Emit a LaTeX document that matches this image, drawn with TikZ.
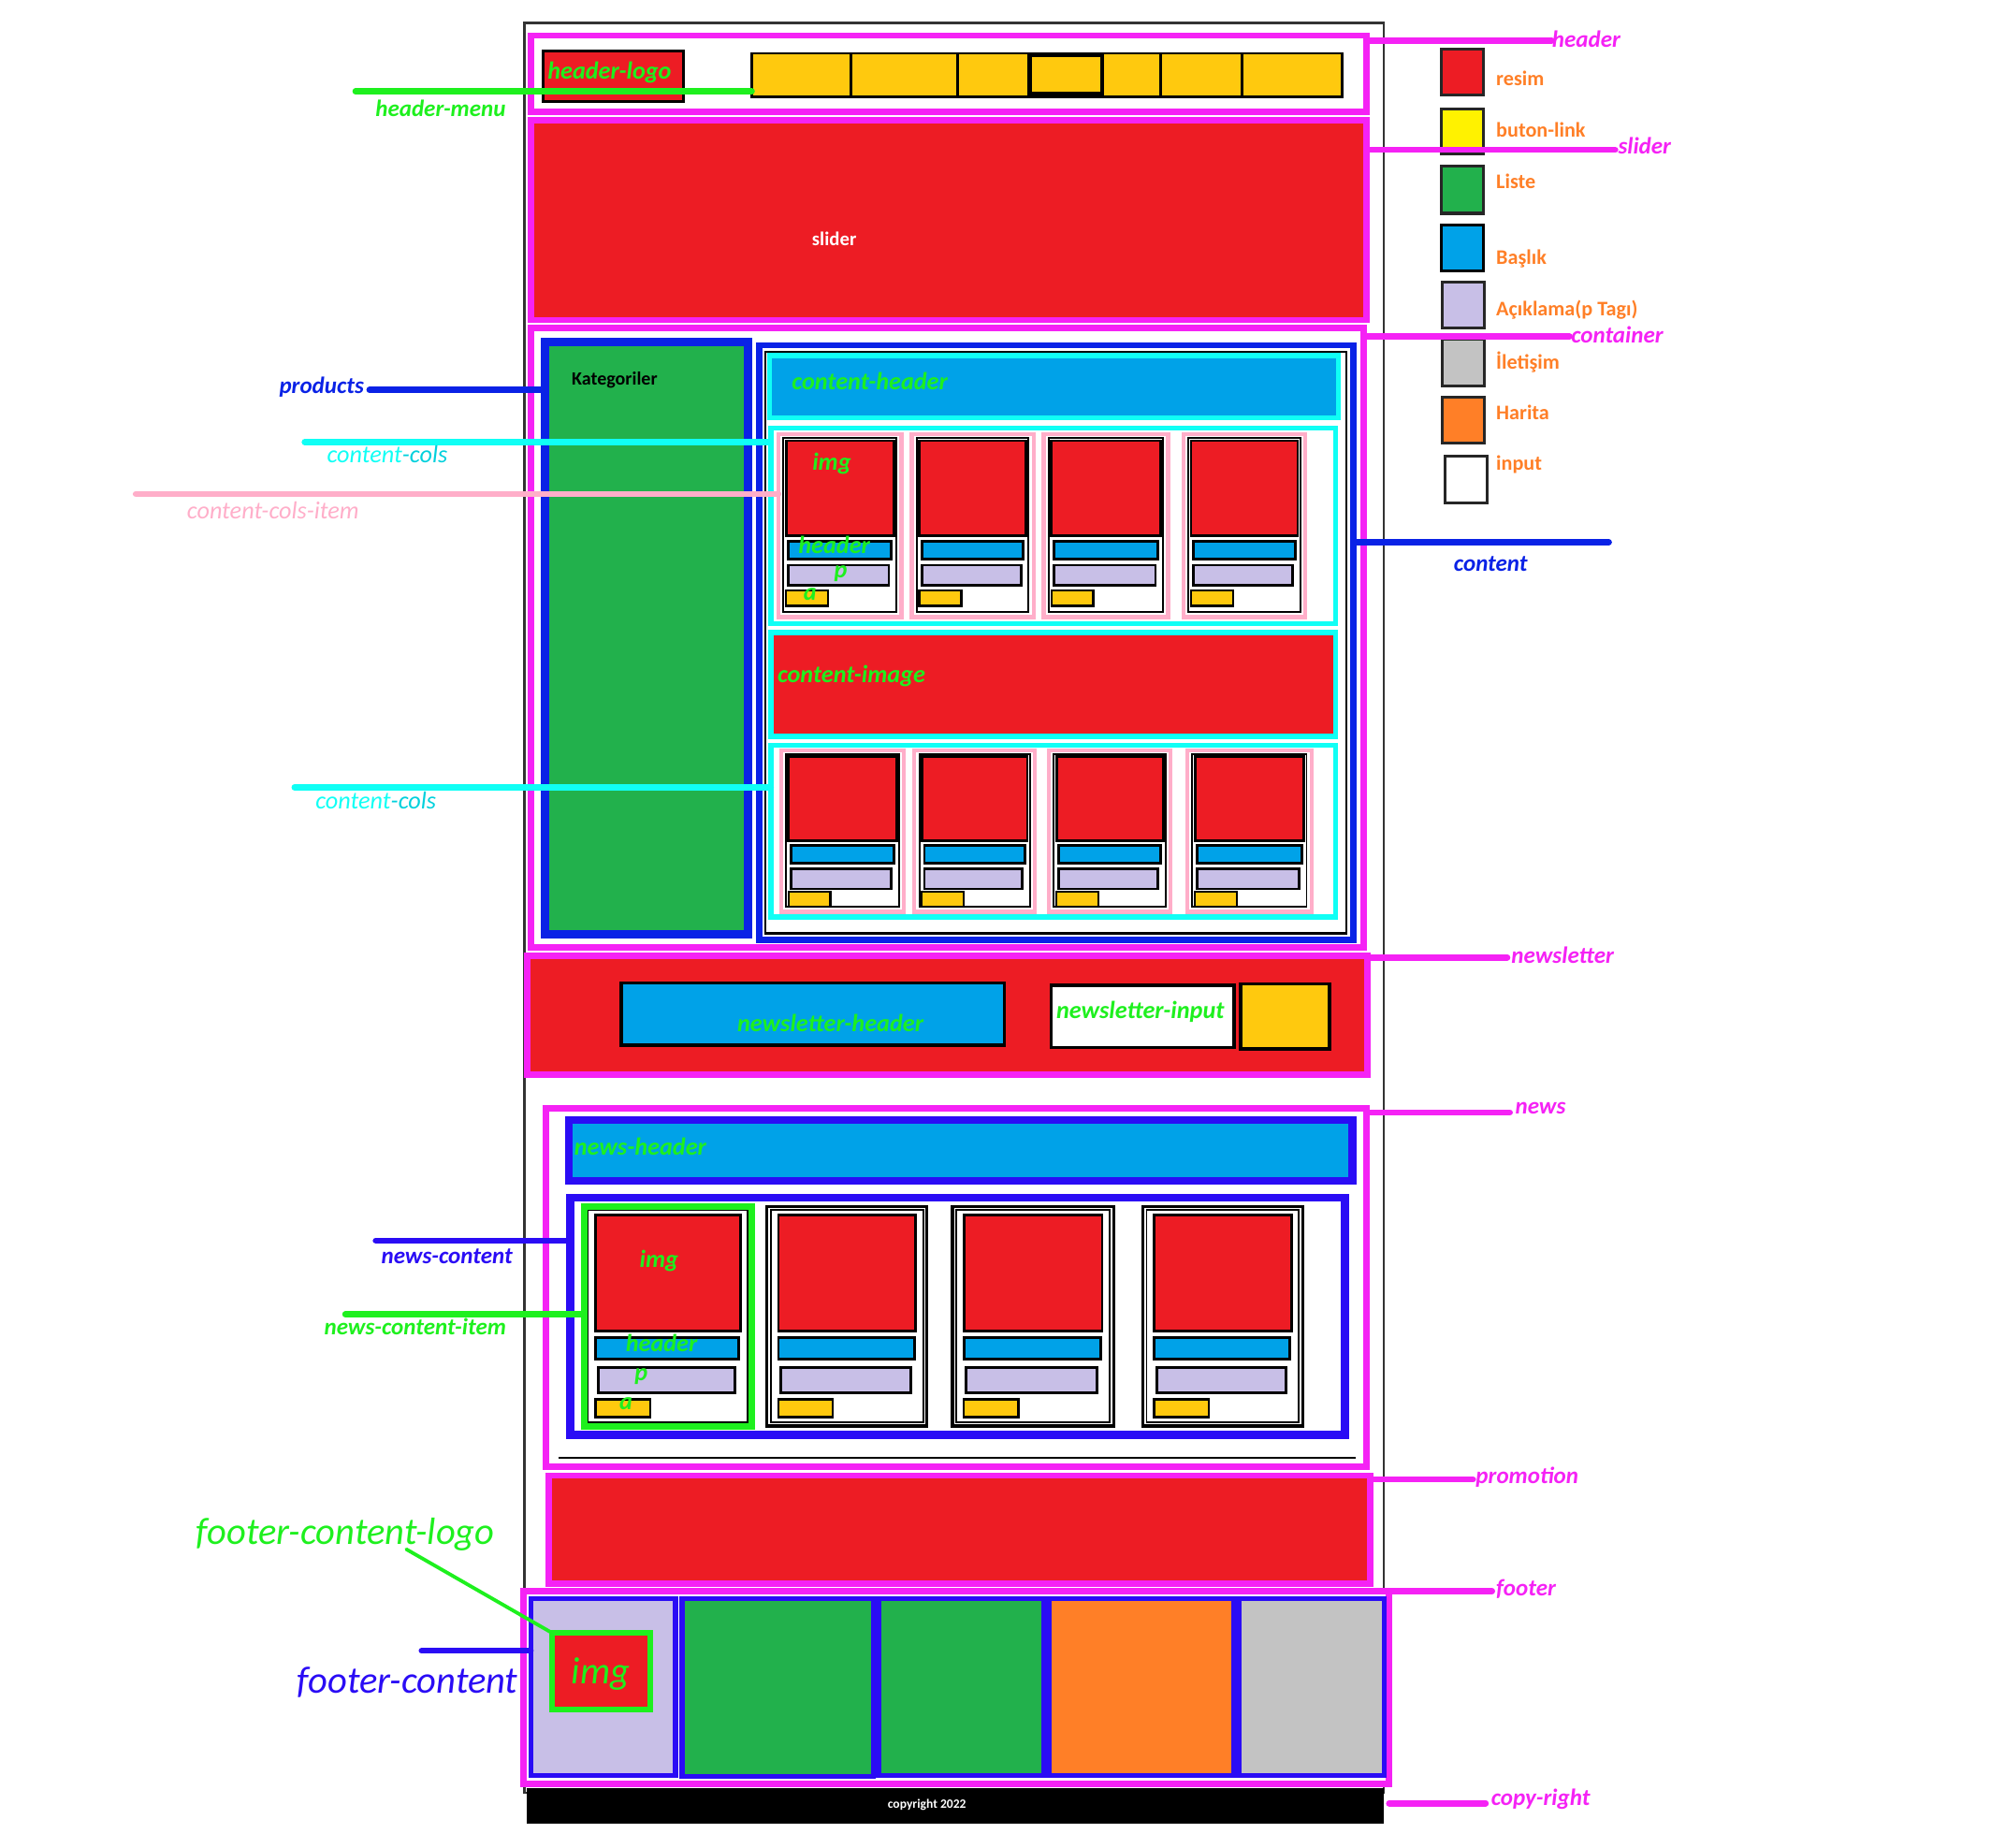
\documentclass[tikz,border=0pt]{standalone}
\usepackage{fontspec}
\setmainfont{Carlito}
\definecolor{mag}{HTML}{F522F5}
\definecolor{wred}{HTML}{ED1C24}
\definecolor{wylw}{HTML}{FFC90E}
\definecolor{lylw}{HTML}{FFF200}
\definecolor{wgrn}{HTML}{22B14C}
\definecolor{wblu}{HTML}{00A2E8}
\definecolor{wlav}{HTML}{C8BFE7}
\definecolor{wgry}{HTML}{C3C3C3}
\definecolor{worg}{HTML}{FF7F27}
\definecolor{dblu}{HTML}{0A22E6}
\definecolor{nblu}{HTML}{2A0CF5}
\definecolor{wcyn}{HTML}{10FFF5}
\definecolor{dcyn}{HTML}{00D0DC}
\definecolor{wpnk}{HTML}{FFAEC9}
\definecolor{lgrn}{HTML}{1EF01E}
% box from (x1,y1) to (x2,y2) as a named rectangle node
\newcommand\bx[6][]{\node[rectangle,inner sep=0pt,outer sep=0pt,
  minimum width={((#4)-(#2))*0.2mm},minimum height={((#5)-(#3))*0.2mm},#1]
  (#6) at ({((#2)+(#4))/2},{((#3)+(#5))/2}) {};}
% product card in a content-cols row
\newcommand\card[9]{% name, x1, x2, top, bottom, img bottom, header top, p top, a top
  \bx[pkfr]{#2}{#4}{#3}{#5}{#1}
  \draw[black,line width=0.8pt] ({#2+4},{#4+3}) rectangle ({#3-4},{#5-4});
  \bx[imgb]{#2+6}{#4+5}{#3-6}{#6}{#1i}
  \bx[hdb]{#2+8}{#7}{#3-8}{#7+14}{#1h}
  \bx[pb]{#2+8}{#8}{#3-10}{#8+16}{#1p}
  \bx[ab]{#2+6}{#9}{#2+39}{#9+12}{#1a}}
% news card
\newcommand\ncard[4]{% name, x1, x2, frame style
  \bx[#4]{#2}{950}{#3}{1123}{#1}
  \draw[black,line width=0.8pt] ({#2+3},953) rectangle ({#3-3},1120);
  \bx[imgb]{#2+9}{957}{#3-9}{1048}{#1i}
  \bx[hdb]{#2+9}{1053}{#3-10}{1070}{#1h}
  \bx[pb]{#2+11}{1077}{#3-13}{1097}{#1p}
  \bx[ab]{#2+9}{1102}{#2+52}{1116}{#1a}}
\begin{document}
\begin{tikzpicture}[x=0.2mm,y=-0.2mm,
  mg/.style={draw=mag,line width=2.9pt},
  cy/.style={draw=wcyn,line width=2.3pt},
  pkfr/.style={draw=wpnk,line width=1.8pt,fill=white},
  imgb/.style={draw=black,line width=1.2pt,fill=wred},
  hdb/.style={draw=black,line width=1.2pt,fill=wblu},
  pb/.style={draw=black,line width=1.2pt,fill=wlav},
  ab/.style={draw=black,line width=1pt,fill=wylw},
  fcol/.style={draw=nblu,line width=2.3pt},
  legsq/.style={draw=black!85,line width=1.3pt},
  lead/.style={line width=2.8pt,line cap=round},
  olab/.style={font=\fontsize{10.5}{12}\selectfont\bfseries\itshape,inner sep=0pt},
  ilab/.style={font=\fontsize{11}{13}\selectfont\bfseries\itshape,text=lgrn,inner sep=0pt},
  leg/.style={font=\fontsize{9.3}{11}\selectfont\bfseries,text=worg,anchor=west,inner sep=0pt},
  scr/.style={font=\fontsize{17}{20}\selectfont\itshape,inner sep=0pt}]
\useasboundingbox (0,0) rectangle (1568,1455);

% page frame
\draw[black!80,line width=0.9pt] (413,18) rectangle (1090,1412);

% legend
\bx[legsq,fill=wred]{1135}{39}{1168}{75}{lgA}
\node[leg] at (1178,62) {resim};
\bx[legsq,fill=lylw]{1135}{86}{1168}{121}{lgB}
\node[leg] at (1178,102) {buton-link};
\bx[legsq,fill=wgrn]{1135}{131}{1168}{168}{lgC}
\node[leg] at (1178,143) {Liste};
\bx[legsq,fill=wblu,draw=black]{1135}{177}{1168}{213}{lgD}
\node[leg] at (1178,204) {Başlık};
\bx[legsq,fill=wlav]{1136}{222}{1169}{258}{lgE}
\node[leg] at (1178,244) {Açıklama(p Tagı)};
\bx[legsq,fill=wgry]{1136}{267}{1169}{304}{lgF}
\node[leg] at (1178,285) {İletişim};
\bx[legsq,fill=worg]{1136}{313}{1169}{349}{lgG}
\node[leg] at (1178,325) {Harita};
\bx[legsq,fill=white]{1138}{359}{1171}{396}{lgH}
\node[leg] at (1178,366) {input};

% header
\bx[mg,fill=white]{418}{28}{1076}{88}{header}
\bx[imgb]{428}{40}{538}{80}{hlogo}
\node[ilab] at (480,57) {header-logo};
\bx[draw=black,line width=1.2pt,fill=wylw]{592}{42}{1057}{76}{hmenu}
\foreach \x in {670,754,868,914,978}
  \draw[black,line width=1.2pt] (\x,42) -- (\x,76);
\draw[black,line width=2pt] (811,43) rectangle (868,74);
\coordinate (hmL) at (280,72);
\draw[lead,lgrn] (hmL) -- (hmL -| hmenu.west);
\node[olab,text=lgrn] at (347,85) {header-menu};

% slider
\bx[mg,fill=wred]{418}{95}{1076}{252}{slider}
\node[font=\fontsize{8.7}{10}\selectfont\bfseries,text=white] at (657,188) {slider};

% container
\bx[mg]{418}{258}{1074}{746}{container}
\bx[draw=dblu,line width=3.8pt,fill=wgrn]{429}{269}{589}{736}{products}
\node[font=\fontsize{8.4}{10}\selectfont\bfseries,anchor=west,inner sep=0pt] at (450,299) {Kategoriler};
\coordinate (prL) at (291,307);
\draw[lead,dblu] (prL) -- (prL -| products.west);
\node[olab,text=dblu,anchor=east] at (287,305) {products};

\bx[draw=dblu,line width=2.8pt]{598}{272}{1066}{740}{content}
\draw[black,line width=0.9pt] (603,277) rectangle (1060,735);
\bx[cy,fill=wblu]{606}{280}{1054}{329}{cheader}
\node[ilab] at (685,300) {content-header};

% first row of products
\bx[cy]{607}{337}{1052}{491}{ccolsA}
\card{ra1}{613}{710}{342}{486}{422}{426}{445}{465}
\card{ra2}{718}{814}{342}{486}{422}{426}{445}{465}
\card{ra3}{822}{920}{342}{486}{422}{426}{445}{465}
\card{ra4}{932}{1028}{342}{486}{422}{426}{445}{465}
\node[ilab] at (655,365) {img};
\node[ilab] at (657,429) {header};
\node[ilab] at (662,452) {p};
\node[ilab] at (638,468) {a};

\bx[cy,fill=wred]{607}{498}{1052}{580}{cimage}
\node[ilab,anchor=west] at (612,532) {content-image};

% second row of products
\bx[cy]{607}{587}{1052}{722}{ccolsB}
\card{rb1}{615}{712}{591}{718}{662}{666}{684}{702}
\card{rb2}{720}{815}{591}{718}{662}{666}{684}{702}
\card{rb3}{826}{922}{591}{718}{662}{666}{684}{702}
\card{rb4}{935}{1033}{591}{718}{662}{666}{684}{702}

% newsletter
\bx[mg,fill=wred]{415}{753}{1077}{846}{newsletter}
\bx[draw=black,line width=1.6pt,fill=wblu]{489}{774}{791}{823}{nlheader}
\node[ilab] at (654,806) {newsletter-header};
\bx[draw=black,line width=1.4pt,fill=white]{828}{776}{972}{825}{nlinput}
\node[ilab] at (898,797) {newsletter-input};
\bx[draw=black,line width=1.4pt,fill=wylw]{977}{775}{1047}{826}{nlbutton}

% news
\bx[mg,fill=white]{430}{873}{1076}{1155}{news}
\draw[black,line width=0.9pt] (440,1148) -- (1068,1148);
\bx[draw=nblu,line width=3.6pt,fill=wblu]{448}{882}{1065}{930}{nheader}
\node[ilab,anchor=west] at (452,903) {news-header};
\bx[draw=nblu,line width=3.6pt,fill=white]{449}{943}{1059}{1130}{ncontent}
\ncard{nc1}{460}{592}{draw=lgrn,line width=3pt,fill=white}
\ncard{nc2}{604}{730}{draw=black,line width=1.4pt,fill=white}
\ncard{nc3}{750}{877}{draw=black,line width=1.4pt,fill=white}
\ncard{nc4}{900}{1026}{draw=black,line width=1.4pt,fill=white}
\draw[lgrn,line width=3pt] (460,950) rectangle (592,1123);
\node[ilab] at (519,993) {img};
\node[ilab] at (521,1058) {header};
\node[ilab] at (505,1084) {p};
\node[ilab] at (493,1105) {a};

% promotion
\bx[mg,fill=wred]{432}{1162}{1079}{1247}{promotion}

% footer
\bx[mg,fill=white]{412}{1253}{1094}{1405}{footer}
\bx[fcol,fill=wlav]{418}{1259}{532}{1398}{fcA}
\bx[fcol,fill=wgrn]{537}{1259}{688}{1399}{fcB}
\bx[fcol,fill=wgrn]{692}{1259}{822}{1398}{fcC}
\bx[fcol,fill=worg]{826}{1259}{972}{1398}{fcD}
\bx[fcol,fill=wgry]{976}{1259}{1090}{1398}{fcE}
\bx[draw=lgrn,line width=2.6pt,fill=wred]{435}{1286}{512}{1346}{fimg}
\node[scr,text=lgrn] at (473,1318) {img};
\coordinate (fclL) at (320,1220);
\draw[lgrn,line width=1.6pt,line cap=round] (fclL) -- (fimg.north west);
\node[scr,text=lgrn] at (272,1208) {footer-content-logo};
\coordinate (fcL) at (332,1300);
\draw[nblu,line width=2.6pt,line cap=round] (fcL) -- (fcL -| fcA.west);
\node[scr,text=nblu] at (321,1325) {footer-content};

% copyright bar
\bx[fill=black]{415}{1408}{1090}{1436}{copyright}
\node[font=\fontsize{5.7}{7}\selectfont\bfseries,text=white] at (730,1421) {copyright 2022};

% left-hand leaders
\coordinate (ccA) at (240,348);
\draw[lead,wcyn] (ccA) -- (ccA -| ccolsA.west);
\node[font=\fontsize{11}{13}\selectfont\itshape,inner sep=0pt] at (305,358) {\textcolor{wcyn}{content}\textcolor{dcyn}{-cols}};
\coordinate (ciL) at (107,389);
\draw[lead,wpnk] (ciL) -- (ciL -| ra1.west);
\node[font=\fontsize{11}{13}\selectfont\itshape,inner sep=0pt,text=wpnk] at (215,402) {content-cols-item};
\coordinate (ccB) at (232,620);
\draw[lead,wcyn] (ccB) -- (ccB -| ccolsB.west);
\node[font=\fontsize{11}{13}\selectfont\itshape,inner sep=0pt] at (296,630) {\textcolor{wcyn}{content}\textcolor{dcyn}{-cols}};
\coordinate (ncL) at (296,977);
\draw[lead,nblu] (ncL) -- (ncL -| ncontent.west);
\node[olab,text=nblu] at (352,989) {news-content};
\coordinate (niL) at (272,1035);
\draw[lead,lgrn] (niL) -- (niL -| nc1.west);
\node[olab,text=lgrn] at (327,1045) {news-content-item};

% right-hand leaders
\coordinate (hdR) at (1222,32);
\draw[lead,mag] (hdR -| header.east) -- (hdR);
\node[olab,text=mag,anchor=west] at (1222,31) {header};
\coordinate (slR) at (1272,118);
\draw[lead,mag] (slR -| slider.east) -- (slR);
\node[olab,text=mag,anchor=west] at (1274,115) {slider};
\coordinate (coR) at (1236,265);
\draw[lead,mag] (coR -| container.east) -- (coR);
\node[olab,text=mag,anchor=west] at (1237,264) {container};
\coordinate (ctR) at (1267,427);
\draw[lead,dblu] (ctR -| content.east) -- (ctR);
\node[olab,text=dblu] at (1174,444) {content};
\coordinate (nlR) at (1187,754);
\draw[lead,mag] (nlR -| newsletter.east) -- (nlR);
\node[olab,text=mag,anchor=west] at (1190,752) {newsletter};
\coordinate (nwR) at (1189,876);
\draw[lead,mag] (nwR -| news.east) -- (nwR);
\node[olab,text=mag,anchor=west] at (1193,873) {news};
\coordinate (prR) at (1160,1165);
\draw[lead,mag] (prR -| promotion.east) -- (prR);
\node[olab,text=mag,anchor=west] at (1162,1163) {promotion};
\coordinate (ftR) at (1175,1253);
\draw[lead,mag] (ftR -| footer.east) -- (ftR);
\node[olab,text=mag,anchor=west] at (1178,1251) {footer};
\coordinate (cpR) at (1170,1420);
\draw[lead,mag] ([xshift=0.8mm]cpR -| copyright.east) -- (cpR);
\node[olab,text=mag,anchor=west] at (1174,1417) {copy-right};
\end{tikzpicture}
\end{document}
